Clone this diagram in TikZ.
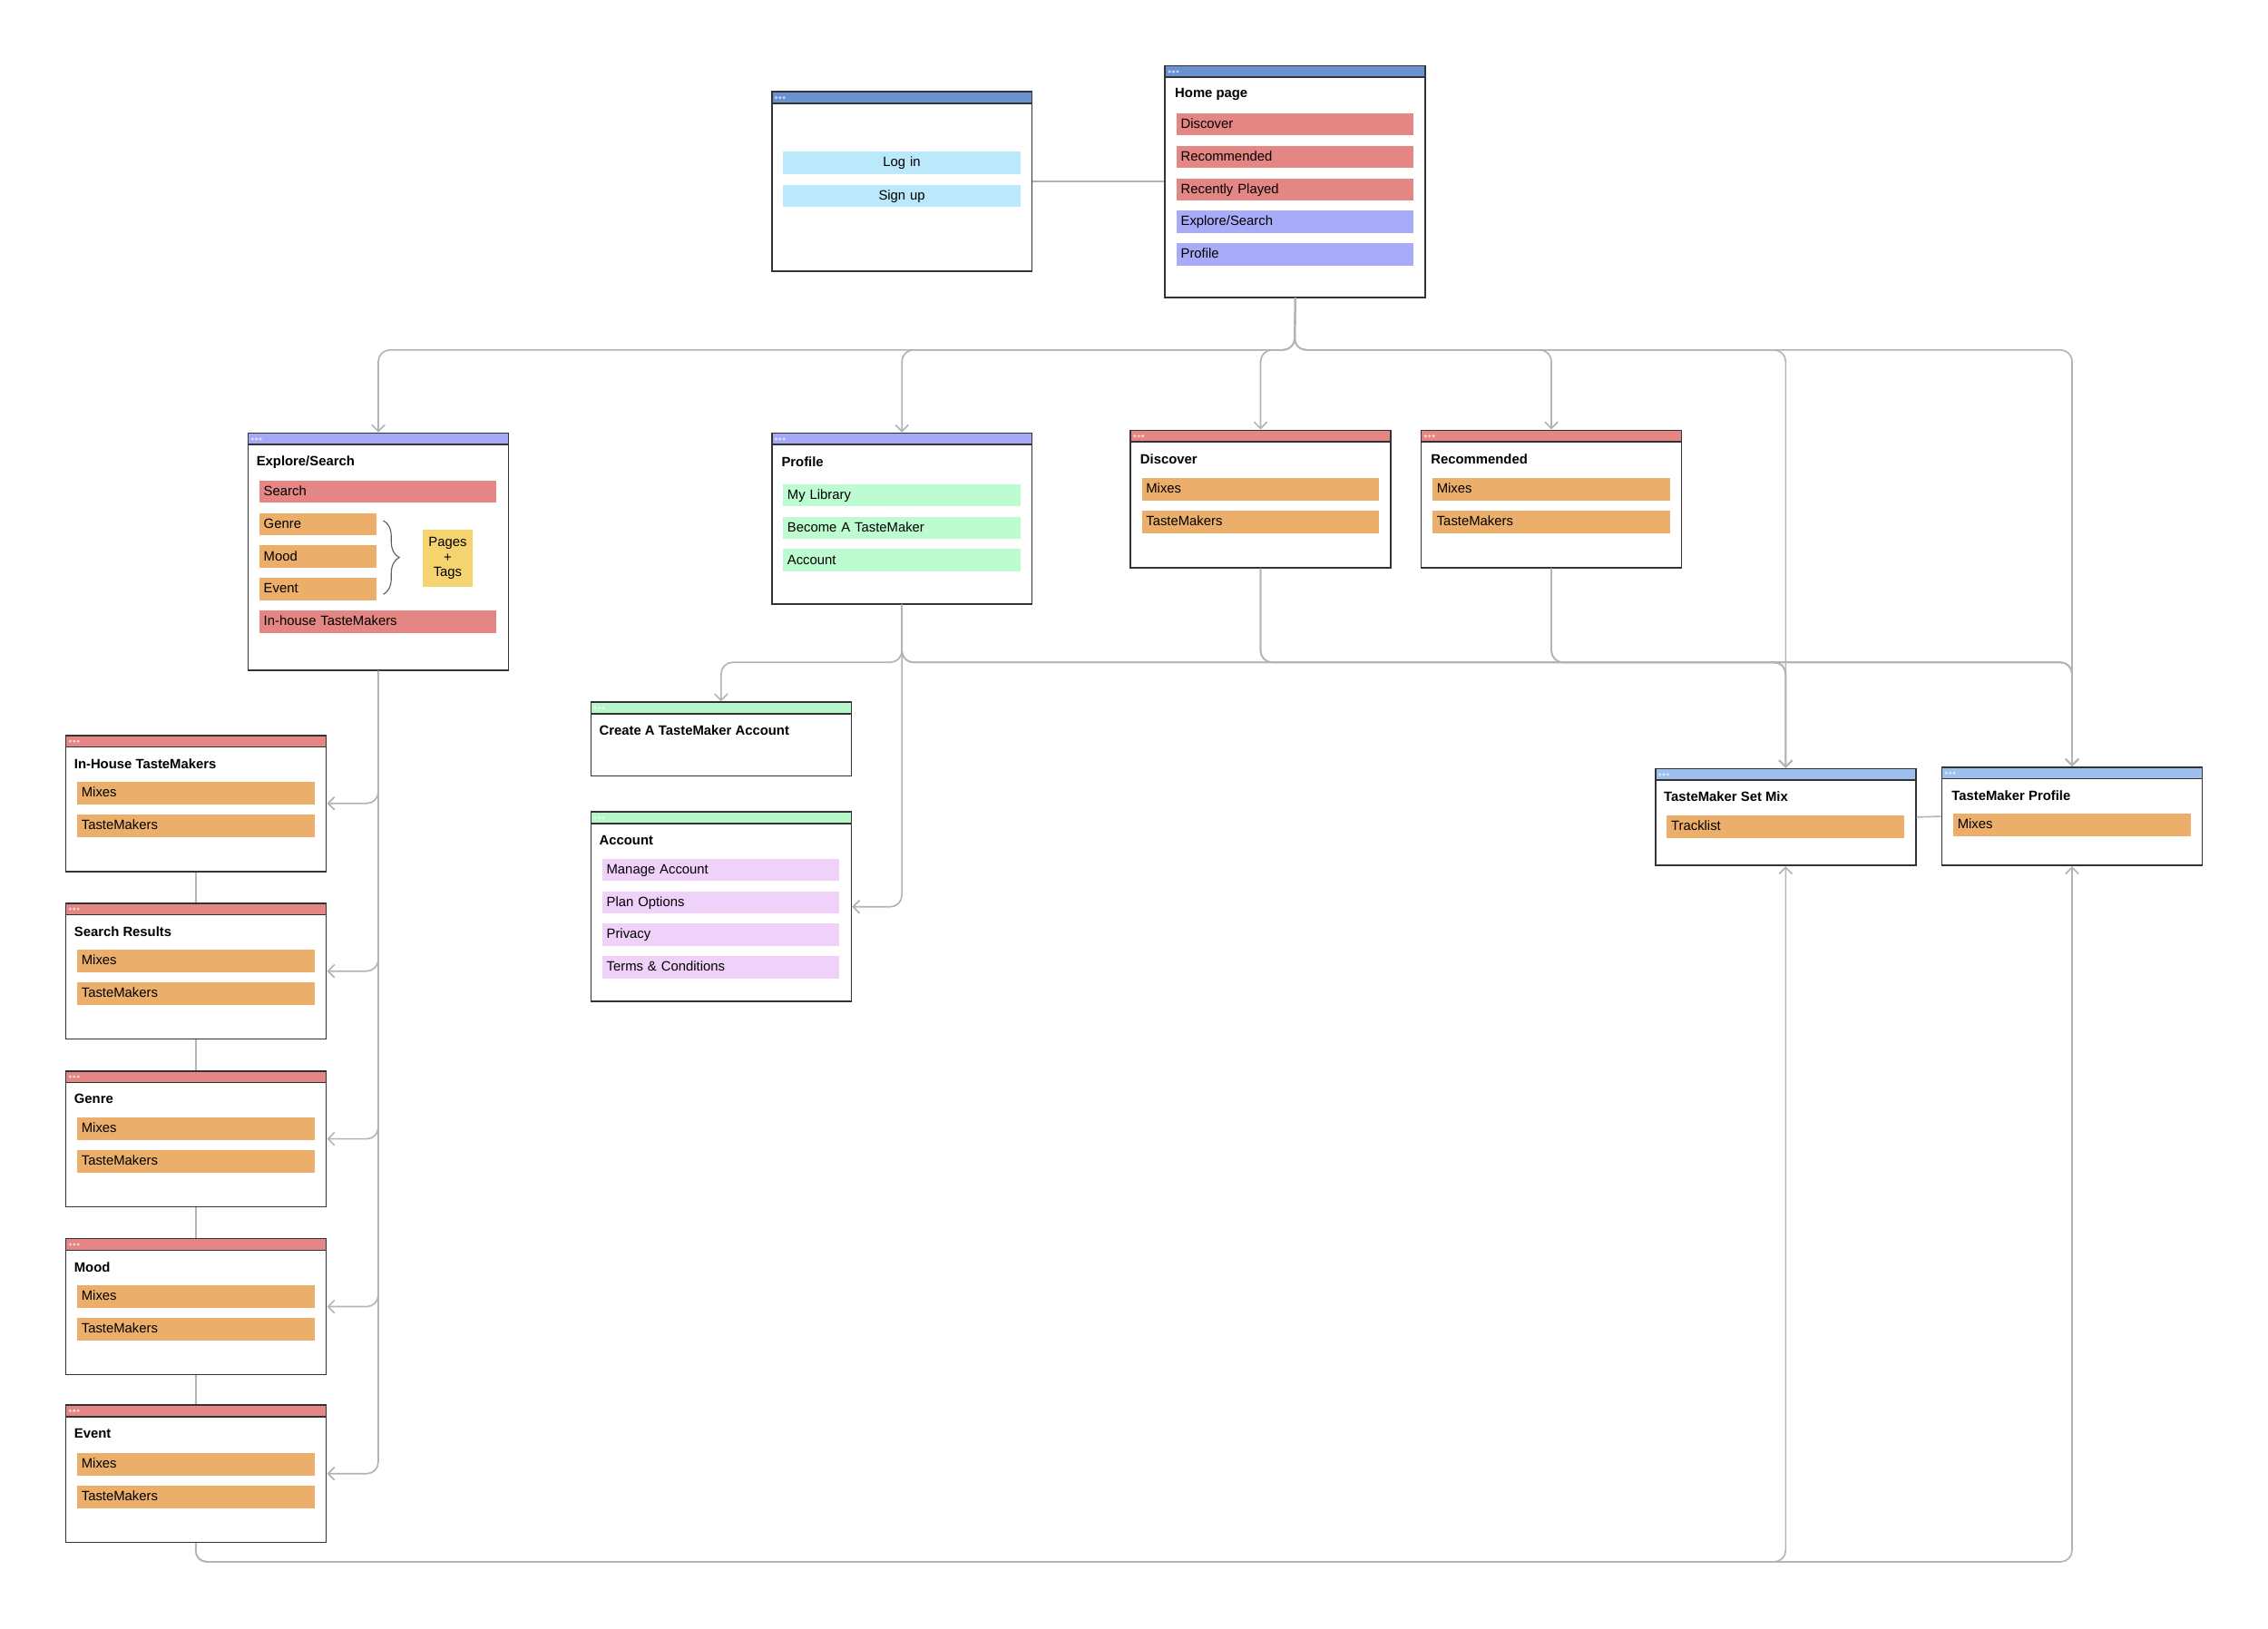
\documentclass[tikz,border=0pt]{standalone}
\usepackage{fontspec}
\setmainfont{Liberation Sans}
\usetikzlibrary{arrows.meta,decorations.pathreplacing}

\definecolor{frame}{HTML}{333333}
\definecolor{barblue}{HTML}{6A92D0}
\definecolor{barlav}{HTML}{A5A8F6}
\definecolor{barred}{HTML}{E38684}
\definecolor{bargreen}{HTML}{B6F6C9}
\definecolor{barsky}{HTML}{9DC0EC}
\definecolor{itemred}{HTML}{E48683}
\definecolor{itemlav}{HTML}{A8ABF8}
\definecolor{itemsky}{HTML}{BCE8FC}
\definecolor{itemorange}{HTML}{EBAE6B}
\definecolor{itemgreen}{HTML}{BCFCD0}
\definecolor{itempink}{HTML}{EFD1F9}
\definecolor{sticky}{HTML}{F5D46F}
\definecolor{linkgrey}{HTML}{B4B4B4}

\newcommand\smalltxt{\fontsize{5.3}{5.8}\selectfont}

\tikzset{
  win/.style={draw=frame, line width=0.6pt, fill=white, anchor=north west, inner sep=0pt,
    minimum width=36mm, minimum height=#1*0.2mm},
  bar/.style={path picture={
      \fill[#1] (path picture bounding box.north west) rectangle ([yshift=-1.6mm]path picture bounding box.north east);
      \draw[frame, line width=0.6pt] ([yshift=-1.6mm]path picture bounding box.north west) -- ([yshift=-1.6mm]path picture bounding box.north east);
      \foreach \d in {0.6,1.15,1.7}
        \fill[white, opacity=.65] ([xshift=\d mm, yshift=-0.8mm]path picture bounding box.north west) circle (0.21mm);}},
  ttl/.style={anchor=west, inner sep=0pt, font=\smalltxt\bfseries},
  item/.style={fill=#1, anchor=west, inner xsep=0.6mm, inner ysep=0pt, minimum height=3.1mm,
    text width=31.6mm, align=left, text height=1.45mm, text depth=0.4mm, font=\smalltxt},
  shortitem/.style={item=#1, text width=15mm},
  button/.style={item=itemsky, anchor=center, align=center},
  link/.style={draw=linkgrey, line width=0.6pt, rounded corners=1.6mm},
  arr/.style={link, -{Straight Barb[length=0.9mm,width=1.8mm]}},
}

\begin{document}
\begin{tikzpicture}[x=0.2mm,y=-0.2mm]
  \useasboundingbox (0,0) rectangle (1568,1126);

  % login + home
  \node[win=124, bar=barblue] (login) at (533,63) {};
  \node[button] (login-in) at (623.5,112.5) {Log in};
  \node[button] (login-up) at (623.5,135.5) {Sign up};

  \node[win=160, bar=barblue] (home) at (805,45) {};
  \node[ttl] (home-t) at (812,65.5) {Home page};
  \node[item=itemred] (home-1) at (813,86) {Discover};
  \node[item=itemred] (home-2) at (813,108.5) {Recommended};
  \node[item=itemred] (home-3) at (813,131) {Recently Played};
  \node[item=itemlav] (home-4) at (813,153.5) {Explore/Search};
  \node[item=itemlav] (home-5) at (813,176) {Profile};

  % second row
  \node[win=164, bar=barlav] (explore) at (171,299) {};
  \node[ttl] (explore-t) at (177,319.5) {Explore/Search};
  \node[item=itemred] (explore-1) at (179,340) {Search};
  \node[shortitem=itemorange] (explore-2) at (179,362.5) {Genre};
  \node[shortitem=itemorange] (explore-3) at (179,385) {Mood};
  \node[shortitem=itemorange] (explore-4) at (179,407.5) {Event};
  \node[item=itemred] (explore-5) at (179,430) {In-house TasteMakers};
  \node[fill=sticky, minimum width=7mm, minimum height=8mm, inner sep=0pt, align=center,
    font=\smalltxt] (tags) at (309.5,386) {Pages\\+\\Tags};
  \draw[frame!80, line width=0.4pt, decorate, decoration={brace, amplitude=2.2mm}]
    (265,360) -- (265,411);

  \node[win=118, bar=barlav] (profile) at (533,299) {};
  \node[ttl] (profile-t) at (540,319.5) {Profile};
  \node[item=itemgreen] (profile-1) at (541,342.5) {My Library};
  \node[item=itemgreen] (profile-2) at (541,365) {Become A TasteMaker};
  \node[item=itemgreen] (profile-3) at (541,387.5) {Account};

  \node[win=95, bar=barred] (discover) at (781,297) {};
  \node[ttl] (discover-t) at (788,317.5) {Discover};
  \node[item=itemorange] (discover-1) at (789,338.5) {Mixes};
  \node[item=itemorange] (discover-2) at (789,361) {TasteMakers};

  \node[win=95, bar=barred] (recom) at (982,297) {};
  \node[ttl] (recom-t) at (989,317.5) {Recommended};
  \node[item=itemorange] (recom-1) at (990,338.5) {Mixes};
  \node[item=itemorange] (recom-2) at (990,361) {TasteMakers};

  % left column
  \node[win=94, bar=barred] (inhouse) at (45,508) {};
  \node[ttl] (inhouse-t) at (51,528) {In-House TasteMakers};
  \node[item=itemorange] (inhouse-1) at (53,548.5) {Mixes};
  \node[item=itemorange] (inhouse-2) at (53,571) {TasteMakers};

  \node[win=94, bar=barred] (results) at (45,624) {};
  \node[ttl] (results-t) at (51,644) {Search Results};
  \node[item=itemorange] (results-1) at (53,664.5) {Mixes};
  \node[item=itemorange] (results-2) at (53,687) {TasteMakers};

  \node[win=94, bar=barred] (genre) at (45,740) {};
  \node[ttl] (genre-t) at (51,760) {Genre};
  \node[item=itemorange] (genre-1) at (53,780.5) {Mixes};
  \node[item=itemorange] (genre-2) at (53,803) {TasteMakers};

  \node[win=94, bar=barred] (mood) at (45,856) {};
  \node[ttl] (mood-t) at (51,876) {Mood};
  \node[item=itemorange] (mood-1) at (53,896.5) {Mixes};
  \node[item=itemorange] (mood-2) at (53,919) {TasteMakers};

  \node[win=95, bar=barred] (event) at (45,971) {};
  \node[ttl] (event-t) at (51,991.5) {Event};
  \node[item=itemorange] (event-1) at (53,1012.5) {Mixes};
  \node[item=itemorange] (event-2) at (53,1035) {TasteMakers};

  % account pages
  \node[win=51, bar=bargreen] (create) at (408,485) {};
  \node[ttl] (create-t) at (414,505) {Create A TasteMaker Account};

  \node[win=131, bar=bargreen] (account) at (408,561) {};
  \node[ttl] (account-t) at (414,581) {Account};
  \node[item=itempink] (account-1) at (416,601.5) {Manage Account};
  \node[item=itempink] (account-2) at (416,624) {Plan Options};
  \node[item=itempink] (account-3) at (416,646.5) {Privacy};
  \node[item=itempink] (account-4) at (416,669) {Terms \& Conditions};

  % tastemaker pages
  \node[win=67, bar=barsky] (setmix) at (1144,531) {};
  \node[ttl] (setmix-t) at (1150,551) {TasteMaker Set Mix};
  \node[item=itemorange] (setmix-1) at (1152,571.5) {Tracklist};

  \node[win=68, bar=barsky] (tmprof) at (1342,530) {};
  \node[ttl] (tmprof-t) at (1349,550) {TasteMaker Profile};
  \node[item=itemorange] (tmprof-1) at (1350,570.5) {Mixes};

  % connectors
  \coordinate (hub) at (895,242);
  \coordinate (phub) at (623.5,458);
  \coordinate (low) at (135,1080);

  \draw[link] (login.east) -- (home.west);
  \draw[arr] (home.south) -- (hub) -| (explore.north);
  \draw[arr] (home.south) -- (hub) -| (profile.north);
  \draw[arr] (home.south) -- (hub) -| (discover.north);
  \draw[arr] (home.south) -- (hub) -| (recom.north);
  \draw[arr] (home.south) -- (hub) -| (setmix.north);
  \draw[arr] (home.south) -- (hub) -| (tmprof.north);

  \draw[arr] (explore.south) |- (inhouse.east);
  \draw[arr] (explore.south) |- (results.east);
  \draw[arr] (explore.south) |- (genre.east);
  \draw[arr] (explore.south) |- (mood.east);
  \draw[arr] (explore.south) |- (event.east);

  \draw[link] (inhouse.south) -- (results.north);
  \draw[link] (results.south) -- (genre.north);
  \draw[link] (genre.south) -- (mood.north);
  \draw[link] (mood.south) -- (event.north);

  \draw[arr] (profile.south) -- (phub) -| (create.north);
  \draw[arr] (profile.south) |- (account.east);
  \draw[arr] (profile.south) -- (phub) -| (setmix.north);
  \draw[arr] (profile.south) -- (phub) -| (tmprof.north);
  \draw[arr] (discover.south) -- (discover.south |- phub) -| (setmix.north);
  \draw[arr] (discover.south) -- (discover.south |- phub) -| (tmprof.north);
  \draw[arr] (recom.south) -- (recom.south |- phub) -| (setmix.north);
  \draw[arr] (recom.south) -- (recom.south |- phub) -| (tmprof.north);

  \draw[arr] (event.south) -- (low) -| (setmix.south);
  \draw[arr] (event.south) -- (low) -| (tmprof.south);
  \draw[link] (setmix.east) -- (tmprof.west);
\end{tikzpicture}
\end{document}
